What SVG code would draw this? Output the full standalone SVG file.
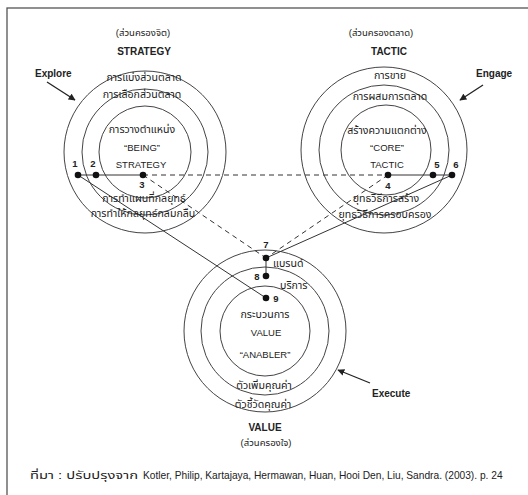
<svg xmlns="http://www.w3.org/2000/svg" width="528" height="495" viewBox="0 0 528 495">
<defs>
<marker id="ah" viewBox="0 0 10 10" refX="9" refY="5" markerWidth="7" markerHeight="7" orient="auto" markerUnits="userSpaceOnUse">
<path d="M0,0 L10,5 L0,10 z" fill="#222"/>
</marker>
<style>
.ring{fill:none;stroke:#444;stroke-width:1}
.t{font-family:"Liberation Sans","Noto Sans Thai","Noto Sans","DejaVu Sans",sans-serif;font-size:9.5px;fill:#222;text-anchor:middle}
.th{font-size:10.6px}
.ts{font-family:"Liberation Sans","Noto Sans Thai","Noto Sans","DejaVu Sans",sans-serif;font-size:10.6px;fill:#222;text-anchor:start}
.ft{font-family:"Liberation Sans","Noto Sans Thai","Noto Sans","DejaVu Sans",sans-serif;font-size:10.2px;fill:#222;text-anchor:start}
.b{font-family:"Liberation Sans",Arial,sans-serif;font-size:10px;font-weight:bold;fill:#222}
.bc{text-anchor:middle}
.n{font-family:"Liberation Sans",Arial,sans-serif;font-size:9.5px;font-weight:bold;fill:#222;text-anchor:middle}
.sl{stroke:#333;stroke-width:1;fill:none}
.dl{stroke:#333;stroke-width:1;fill:none;stroke-dasharray:5,4}
.dot{fill:#111}
.arr{stroke:#222;stroke-width:1.3;fill:none;marker-end:url(#ah)}
</style>
</defs>
<rect x="0" y="0" width="528" height="495" fill="#fff"/>
<rect x="7" y="8" width="560" height="520" fill="none" stroke="#555" stroke-width="1.3"/>

<g id="strategy">
<circle class="ring" cx="145" cy="152" r="81"/>
<circle class="ring" cx="145" cy="152" r="63"/>
<circle class="ring" cx="145" cy="152" r="46"/>
<text class="t" x="143" y="36">(ส่วนครองจิต)</text>
<text class="b bc" x="144" y="55">STRATEGY</text>
<text class="t th" x="144" y="81">การแบ่งส่วนตลาด</text>
<text class="t th" x="142" y="98">การเลือกส่วนตลาด</text>
<text class="t th" x="142" y="133">การวางตำแหน่ง</text>
<text class="t" x="142" y="151">“BEING”</text>
<text class="t" x="141" y="168">STRATEGY</text>
<text class="t th" x="144" y="202">การทำแผนที่กลยุทธ์</text>
<text class="t th" x="143" y="217">การทำให้กลยุทธ์กลมกลืน</text>
</g>

<g id="tactic">
<circle class="ring" cx="384" cy="150" r="83"/>
<circle class="ring" cx="384" cy="150" r="65"/>
<circle class="ring" cx="386" cy="150" r="45"/>
<text class="t" x="381" y="36">(ส่วนครองตลาด)</text>
<text class="b bc" x="389" y="55">TACTIC</text>
<text class="t th" x="390" y="79">การขาย</text>
<text class="t th" x="390" y="100">การผสมการตลาด</text>
<text class="t th" x="387" y="134">สร้างความแตกต่าง</text>
<text class="t" x="387" y="151">“CORE”</text>
<text class="t" x="387" y="168">TACTIC</text>
<text class="t th" x="386" y="202">ยุทธวิธีการสร้าง</text>
<text class="t th" x="385" y="218">ยุทธวิธีการครอบครอง</text>
</g>

<g id="value">
<circle class="ring" cx="265" cy="331" r="81"/>
<circle class="ring" cx="265" cy="331" r="64"/>
<circle class="ring" cx="265" cy="331" r="45"/>
<text class="t th" x="265" y="318">กระบวนการ</text>
<text class="t" x="266" y="336">VALUE</text>
<text class="t" x="265" y="358">“ANABLER”</text>
<text class="t th" x="264" y="389">ตัวเพิ่มคุณค่า</text>
<text class="t th" x="263" y="408">ตัวชี้วัดคุณค่า</text>
<text class="b bc" x="265" y="431">VALUE</text>
<text class="t" x="266" y="446">(ส่วนครองใจ)</text>
<text class="ts" x="273" y="267">แบรนด์</text>
<text class="ts" x="280" y="289">บริการ</text>
</g>

<g id="explore">
<text class="b" x="35" y="77">Explore</text>
<line class="arr" x1="47" y1="82" x2="75" y2="100"/>
</g>
<g id="engage">
<text class="b" x="476" y="77">Engage</text>
<line class="arr" x1="483" y1="85" x2="460" y2="100"/>
</g>
<g id="execute">
<text class="b" x="372" y="397">Execute</text>
<line class="arr" x1="370" y1="383" x2="338" y2="370"/>
</g>

<g id="connectors">
<line class="sl" x1="78" y1="175" x2="143" y2="175"/>
<line class="dl" x1="143" y1="175" x2="388" y2="175"/>
<line class="sl" x1="388" y1="175" x2="452" y2="175"/>
<line class="dl" x1="143" y1="175" x2="266" y2="258"/>
<line class="dl" x1="388" y1="175" x2="266" y2="258"/>
<line class="sl" x1="78" y1="175" x2="266" y2="298"/>
<line class="sl" x1="452" y1="175" x2="266" y2="258"/>
<line class="sl" x1="266" y1="258" x2="266" y2="276"/>
</g>

<g id="points">
<circle class="dot" cx="78" cy="175" r="3.3"/>
<circle class="dot" cx="96" cy="175" r="3.3"/>
<circle class="dot" cx="143" cy="175" r="3.3"/>
<circle class="dot" cx="388" cy="175" r="3.3"/>
<circle class="dot" cx="433" cy="175" r="3.3"/>
<circle class="dot" cx="452" cy="175" r="3.3"/>
<circle class="dot" cx="266" cy="258" r="3.3"/>
<circle class="dot" cx="266" cy="276" r="3.3"/>
<circle class="dot" cx="266" cy="298" r="3.3"/>
<text class="n" x="75" y="167">1</text>
<text class="n" x="93" y="167">2</text>
<text class="n" x="142" y="188">3</text>
<text class="n" x="388" y="189">4</text>
<text class="n" x="437" y="168">5</text>
<text class="n" x="456" y="168">6</text>
<text class="n" x="266" y="248">7</text>
<text class="n" x="257" y="280">8</text>
<text class="n" x="276" y="302">9</text>
</g>

<g id="source">
<text class="ft" x="30" y="479" style="font-size:10.6px" textLength="108" lengthAdjust="spacingAndGlyphs">ที่มา : ปรับปรุงจาก</text>
<text class="ft" x="143" y="479">Kotler, Philip, Kartajaya, Hermawan, Huan, Hooi Den, Liu, Sandra. (2003). p. 24</text>
</g>
</svg>
